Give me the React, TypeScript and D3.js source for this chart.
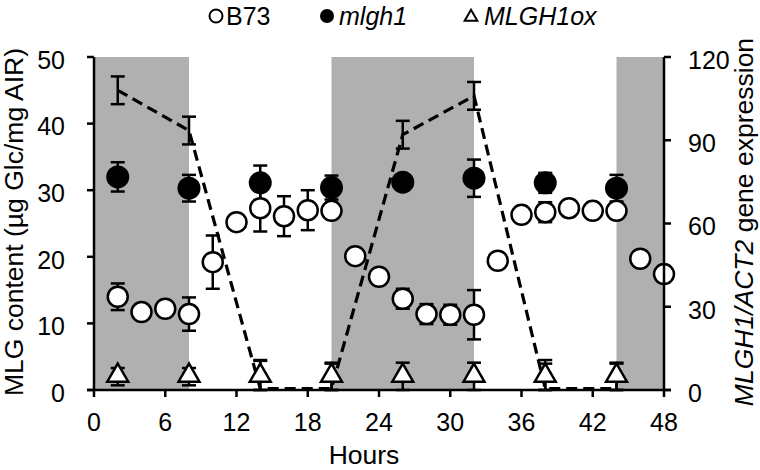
import * as d3 from 'd3';

// Hours of sampling
const b73Hours = [2, 4, 6, 8, 10, 12, 14, 16, 18, 20, 22, 24, 26, 28, 30, 32, 34, 36, 38, 40, 42, 44, 46, 48];
const b73Mlg = [14.0, 11.7, 12.2, 11.4, 19.2, 25.2, 27.3, 26.1, 27.0, 26.9, 20.1, 17.0, 13.7, 11.4, 11.3, 11.3, 19.4, 26.3, 26.7, 27.3, 26.9, 26.9, 19.7, 17.4];
const b73Err = [2.0, 0, 1.0, 2.5, 4.0, 0, 3.5, 3.0, 3.0, 1.0, 0, 0, 1.5, 1.5, 1.5, 3.7, 0, 0, 1.5, 0, 1.0, 1.0, 0, 0];

const sixHours = [2, 8, 14, 20, 26, 32, 38, 44];
const mlghMlg = [32.0, 30.3, 31.1, 30.4, 31.2, 31.8, 31.1, 30.3];
const mlghErr = [2.2, 2.0, 2.6, 1.8, 1.0, 2.8, 1.5, 2.0];
const oxMlg = [2.0, 2.0, 2.0, 2.0, 2.0, 2.0, 2.0, 2.0];
const oxErr = [1.3, 1.3, 2.5, 2.1, 2.1, 2.1, 2.5, 2.1];

// MLGH1/ACT2 expression in B73 (right axis)
const exprVal = [108, 93.5, 0.5, 0.5, 92, 106, 0.5, 0.5];
const exprErr = [5, 5, 10, 9, 5, 5, 9, 9];

const darkPeriods = [[0, 8], [20, 32], [44, 48]];
const hourTicks = [0, 6, 12, 18, 24, 30, 36, 42, 48];
const leftTicks = [0, 10, 20, 30, 40, 50];
const rightTicks = [0, 30, 60, 90, 120];

const font = 'Liberation Sans, Arial, sans-serif';

export default function App() {
  const W = 760, H = 470;
  const left = 94, right = 664, top = 57, bottom = 390;
  const x = d3.scaleLinear().domain([0, 48]).range([left, right]);
  const y = d3.scaleLinear().domain([0, 50]).range([bottom, top]);
  const y2 = d3.scaleLinear().domain([0, 120]).range([bottom, top]);

  const line = d3.line<number>().x((_, i) => x(sixHours[i])).y(d => y2(d));
  const tri = d3.symbol().type(d3.symbolTriangle).size(190)()!;

  const errBar = (cx: number, y0: number, y1: number, key: string) => (
    <g key={key} stroke="#000" strokeWidth={2.5}>
      <line x1={cx} x2={cx} y1={y0} y2={y1} />
      <line x1={cx - 7} x2={cx + 7} y1={y0} y2={y0} />
      <line x1={cx - 7} x2={cx + 7} y1={y1} y2={y1} />
    </g>
  );

  return (
    <svg width={W} height={H} style={{ position: 'absolute', left: 0, top: 0, background: '#fff' }} fontFamily={font}>
      {darkPeriods.map(([a, b]) => (
        <rect key={a} x={x(a)} y={top} width={x(b) - x(a)} height={bottom - top} fill="#b0b0b0" />
      ))}

      {/* expression line */}
      <path d={line(exprVal)!} fill="none" stroke="#000" strokeWidth={3.2} strokeDasharray="11,6" />
      {exprVal.map((v, i) => errBar(x(sixHours[i]), y2(v + exprErr[i]), y2(Math.max(0, v - exprErr[i])), 'e' + i))}

      {/* MLGH1ox */}
      {oxMlg.map((v, i) => errBar(x(sixHours[i]), y(v + oxErr[i]), y(Math.max(0, v - oxErr[i])), 'o' + i))}
      {oxMlg.map((v, i) => (
        <path key={'ot' + i} d={tri} transform={`translate(${x(sixHours[i])},${y(v) - 1})`} fill="#fff" stroke="#000" strokeWidth={2.5} />
      ))}

      {/* mlgh1 */}
      {mlghMlg.map((v, i) => errBar(x(sixHours[i]), y(v + mlghErr[i]), y(v - mlghErr[i]), 'm' + i))}
      {mlghMlg.map((v, i) => (
        <circle key={'mc' + i} cx={x(sixHours[i])} cy={y(v)} r={11.5} fill="#000" />
      ))}

      {/* B73 */}
      {b73Mlg.map((v, i) => b73Err[i] > 0 ? errBar(x(b73Hours[i]), y(v + b73Err[i]), y(v - b73Err[i]), 'b' + i) : null)}
      {b73Mlg.map((v, i) => (
        <circle key={'bc' + i} cx={x(b73Hours[i])} cy={y(v)} r={10} fill="#fff" stroke="#000" strokeWidth={2.5} />
      ))}

      {/* axes */}
      <g stroke="#000" strokeWidth={2.5} fill="none">
        <line x1={left} x2={left} y1={top} y2={bottom} />
        <line x1={right} x2={right} y1={top} y2={bottom} />
        <line x1={left - 7} x2={right + 7} y1={bottom} y2={bottom} />
        {leftTicks.map(t => <line key={'lt' + t} x1={left - 7} x2={left} y1={y(t)} y2={y(t)} />)}
        {rightTicks.map(t => <line key={'rt' + t} x1={right} x2={right + 7} y1={y2(t)} y2={y2(t)} />)}
        {hourTicks.map(t => <line key={'xt' + t} x1={x(t)} x2={x(t)} y1={bottom} y2={bottom + 7} />)}
      </g>
      <g fontSize={25} fill="#000">
        {leftTicks.map(t => <text key={'ll' + t} x={left - 29} y={y(t) + 3} dy="0.35em" textAnchor="end">{t}</text>)}
        {rightTicks.map(t => <text key={'rl' + t} x={right + 24} y={y2(t) + 3} dy="0.35em">{t}</text>)}
        {hourTicks.map(t => <text key={'xl' + t} x={x(t)} y={bottom + 32} dy="0.35em" textAnchor="middle">{t}</text>)}
      </g>
      <g fontSize={26.5} fill="#000">
        <text x={364} y={bottom + 65} dy="0.35em" textAnchor="middle">Hours</text>
        <text transform={`translate(14,222) rotate(-90)`} textAnchor="middle" dy="0.35em">MLG content (µg  Glc/mg AIR)</text>
        <text transform={`translate(744,222) rotate(-90)`} textAnchor="middle" dy="0.35em">
          <tspan fontStyle="italic">MLGH1/ACT2</tspan> gene expression
        </text>
      </g>

      {/* legend */}
      <g fontSize={25}>
        <circle cx={216} cy={16} r={6.5} fill="#fff" stroke="#000" strokeWidth={2} />
        <text x={226} y={16} dy="0.35em">B73</text>
        <circle cx={327} cy={16} r={7} fill="#000" />
        <text x={339} y={16} dy="0.35em" fontStyle="italic">mlgh1</text>
        <path d={d3.symbol().type(d3.symbolTriangle).size(70)()!} transform="translate(471,17)" fill="#fff" stroke="#000" strokeWidth={2} />
        <text x={484} y={16} dy="0.35em" fontStyle="italic">MLGH1ox</text>
      </g>
    </svg>
  );
}
